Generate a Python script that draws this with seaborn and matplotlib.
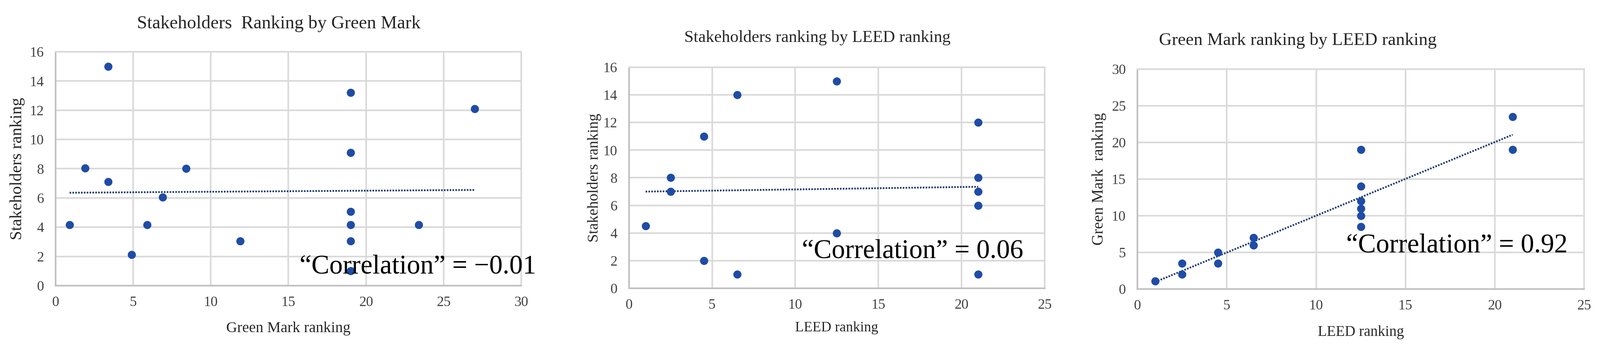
import numpy as np
import matplotlib
matplotlib.use("Agg")
import matplotlib.pyplot as plt
import seaborn as sns

# Stakeholders ranking vs Green Mark ranking
gm_x = [3.4, 19, 27, 19, 1.9, 8.4, 3.4, 6.9, 19, 0.9, 5.9, 19, 23.4, 11.9, 19, 4.9, 19]
gm_y = [15, 13.2, 12.1, 9.1, 8.05, 8, 7.1, 6.05, 5.06, 4.15, 4.15, 4.15, 4.15, 3.05, 3.05, 2.13, 1]

# Stakeholders ranking vs LEED ranking
leed_x = [12.5, 6.5, 21, 4.5, 2.5, 21, 2.5, 21, 21, 1, 12.5, 4.5, 6.5, 21]
leed_y = [15, 14, 12, 11, 8, 8, 7, 7, 6, 4.5, 4, 2, 1, 1]

# Green Mark ranking vs LEED ranking
lg_x = [21, 21, 12.5, 12.5, 12.5, 12.5, 12.5, 12.5, 6.5, 6.5, 4.5, 4.5, 2.5, 2.5, 1]
lg_y = [23.5, 19, 19, 14, 12, 11, 10, 8.5, 7, 6, 5, 3.5, 3.5, 2, 1.1]

titles = ["Stakeholders  Ranking by Green Mark",
          "Stakeholders ranking by LEED ranking",
          "Green Mark ranking by LEED ranking"]
xlabels = ["Green Mark ranking", "LEED ranking", "LEED ranking"]
ylabels = ["Stakeholders ranking", "Stakeholders ranking", "Green Mark  ranking"]
corr_text = ["\u201cCorrelation\u201d = \u22120.01",
             "\u201cCorrelation\u201d = 0.06",
             "\u201cCorrelation\u201d = 0.92"]

sns.set_theme(style="whitegrid")
plt.rcParams["font.family"] = ["Liberation Serif", "DejaVu Serif"]

dot = "#1F4CA6"
trend = "#1F3A6E"
grid = "#d9d9d9"

fig = plt.figure(figsize=(42.3, 9.21), dpi=100)
fig.patch.set_facecolor("white")

boxes = [[0.03475, 0.1792, 0.2910, 0.6721],
         [0.3931, 0.1716, 0.2598, 0.6352],
         [0.7109, 0.1694, 0.2792, 0.6319]]
data = [(gm_x, gm_y), (leed_x, leed_y), (lg_x, lg_y)]
xlims = [(0, 30), (0, 25), (0, 25)]
ylims = [(0, 16), (0, 16), (0, 30)]
ysteps = [2, 2, 5]
title_pos = [(0.479, 1.12, 35), (0.453, 1.133, 32), (0.359, 1.13, 34)]
xlab = [(-0.184, 29), (-0.179, 27), (-0.196, 28)]
ylab = [(-0.082, 32), (-0.083, 29), (-0.086, 30)]
corr_pos = [(0.524, 0.053), (0.416, 0.138), (0.467, 0.167)]

for i in range(3):
    ax = fig.add_axes(boxes[i])
    x, y = data[i]
    sns.regplot(x=x, y=y, ax=ax, ci=None, color=dot,
                scatter_kws=dict(s=240, edgecolor=dot, linewidths=0, alpha=1, zorder=3),
                line_kws=dict(color=trend, linestyle=(0, (0.9, 0.7)), linewidth=3.4, zorder=2))
    ax.set_xlim(*xlims[i])
    ax.set_ylim(*ylims[i])
    ax.set_xticks(np.arange(xlims[i][0], xlims[i][1] + 1, 5))
    ax.set_yticks(np.arange(ylims[i][0], ylims[i][1] + 1, ysteps[i]))
    ax.grid(True, color=grid, linewidth=3)
    for side, sp in ax.spines.items():
        sp.set_visible(True)
        sp.set_linewidth(3)
        sp.set_color("#bfbfbf" if side in ("left", "bottom") else grid)
    ax.tick_params(length=0, labelsize=27, colors="#404040", pad=20)
    ax.tick_params(axis="y", pad=22)

    ax.text(title_pos[i][0], title_pos[i][1], titles[i], transform=ax.transAxes,
            ha="center", va="center", fontsize=title_pos[i][2], color="#262626")
    ax.set_xlabel(xlabels[i], fontsize=xlab[i][1], color="#262626")
    ax.xaxis.set_label_coords(0.5, xlab[i][0])
    ax.xaxis.label.set_va("center")
    ax.set_ylabel(ylabels[i], fontsize=ylab[i][1], color="#262626")
    ax.yaxis.set_label_coords(ylab[i][0], 0.5)
    ax.yaxis.label.set_va("center")

    ax.text(corr_pos[i][0], corr_pos[i][1], corr_text[i], transform=ax.transAxes,
            ha="left", va="baseline", fontsize=51, color="black", zorder=5,
            clip_on=False)

fig.savefig("out.png", dpi=100, facecolor="white")
